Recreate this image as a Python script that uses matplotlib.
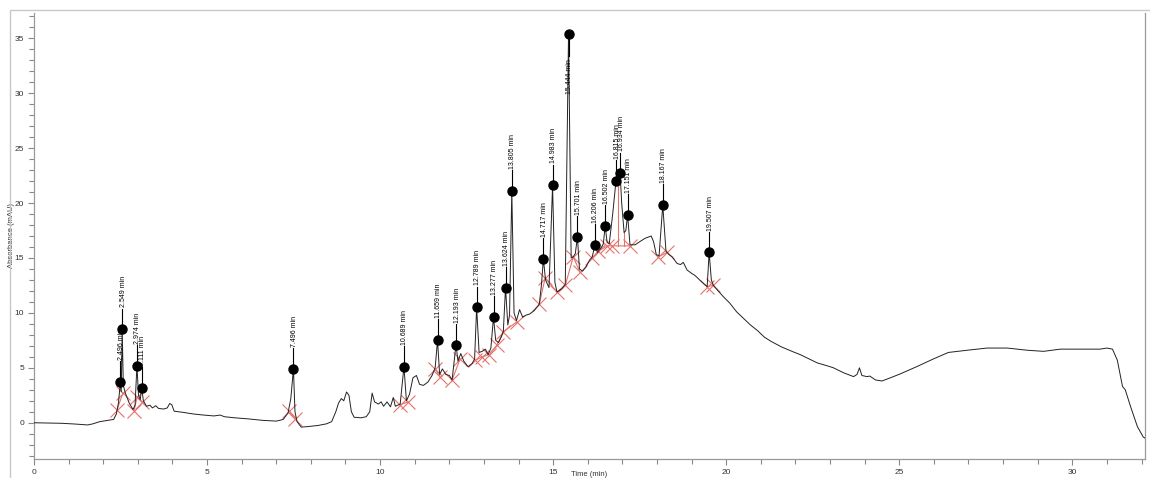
import matplotlib
matplotlib.use("Agg")
import matplotlib.pyplot as plt
from matplotlib.patches import Rectangle
from matplotlib.ticker import MultipleLocator

plt.rcParams['font.family'] = ['Liberation Sans', 'DejaVu Sans']

# chromatogram trace (time in min, absorbance in mAU)
t = [0.00, 0.40, 0.80, 1.20, 1.55, 1.70, 1.90, 2.10, 2.30, 2.38, 2.44, 2.496, 2.52, 2.549,
     2.58, 2.64, 2.75, 2.86, 2.92, 2.974, 3.02, 3.07, 3.111, 3.16, 3.25, 3.35, 3.42, 3.52,
     3.60, 3.75, 3.85, 3.92, 3.98, 4.05, 4.30, 4.60, 4.90, 5.20, 5.38, 5.50, 5.80, 6.20,
     6.60, 7.00, 7.20, 7.34, 7.42, 7.496, 7.54, 7.60, 7.72, 7.90, 8.20, 8.45, 8.60, 8.72,
     8.80, 8.88, 8.95, 9.03, 9.10, 9.17, 9.25, 9.45, 9.60, 9.70, 9.77, 9.84, 9.95, 10.03,
     10.10, 10.20, 10.30, 10.38, 10.44, 10.58, 10.689, 10.76, 10.85, 10.95, 11.05, 11.14,
     11.25, 11.38, 11.50, 11.59, 11.659, 11.72, 11.80, 11.90, 12.00, 12.08, 12.193, 12.25,
     12.33, 12.42, 12.54, 12.66, 12.73, 12.789, 12.86, 12.95, 13.04, 13.12, 13.20, 13.277,
     13.34, 13.42, 13.50, 13.56, 13.624, 13.69, 13.74, 13.805, 13.87, 13.94, 14.03, 14.12,
     14.22, 14.32, 14.45, 14.60, 14.66, 14.717, 14.78, 14.88, 14.983, 15.05, 15.11, 15.25,
     15.35, 15.444, 15.52, 15.58, 15.64, 15.701, 15.76, 15.85, 15.95, 16.05, 16.13, 16.206,
     16.28, 16.40, 16.45, 16.502, 16.56, 16.62, 16.72, 16.815, 16.87, 16.934, 16.98, 17.05,
     17.10, 17.151, 17.22, 17.37, 17.51, 17.66, 17.75, 17.83, 17.90, 17.98, 18.06, 18.167,
     18.26, 18.35, 18.44, 18.58, 18.68, 18.76, 18.87, 19.00, 19.10, 19.30, 19.45, 19.507,
     19.57, 19.63, 19.74, 19.91, 20.10, 20.30, 20.50, 20.70, 20.90, 21.10, 21.30, 21.60,
     21.90, 22.14, 22.40, 22.63, 22.90, 23.10, 23.39, 23.68, 23.78, 23.85, 23.92, 24.07,
     24.15, 24.31, 24.50, 24.75, 25.03, 25.50, 25.98, 26.42, 26.96, 27.54, 28.12, 28.70,
     29.17, 29.65, 30.32, 30.80, 31.00, 31.16, 31.30, 31.45, 31.53, 31.68, 31.88, 32.05, 32.10]
absorb = [0.00, -0.02, -0.05, -0.12, -0.20, -0.10, 0.10, 0.20, 0.30, 0.80, 1.80, 3.70, 2.80, 8.50,
          3.40, 2.70, 1.80, 1.20, 1.60, 5.20, 2.50, 2.10, 3.20, 2.00, 1.50, 1.60, 1.35, 1.55,
          1.30, 1.25, 1.35, 1.75, 1.65, 1.05, 0.95, 0.80, 0.70, 0.62, 0.70, 0.55, 0.45, 0.35,
          0.22, 0.15, 0.30, 0.90, 2.20, 4.90, 1.00, 0.10, -0.40, -0.35, -0.25, -0.10, 0.10, 1.00,
          1.80, 2.20, 2.00, 2.80, 2.50, 1.00, 0.50, 0.45, 0.55, 1.00, 2.70, 1.90, 1.70, 1.90,
          1.50, 1.90, 1.45, 2.30, 1.50, 1.70, 5.10, 2.00, 2.60, 4.10, 4.30, 3.50,
          3.40, 3.70, 4.30, 5.00, 7.50, 4.40, 4.90, 4.40, 4.30, 3.90, 7.10, 5.60,
          6.30, 5.60, 5.10, 5.40, 5.80, 10.50, 6.40, 6.50, 6.70, 6.20, 6.80, 9.60,
          7.50, 7.30, 7.80, 8.30, 12.30, 8.90, 9.80, 21.10, 10.00, 9.30, 10.30, 9.60,
          9.80, 9.90, 10.20, 10.80, 12.50, 14.90, 13.00, 12.30, 21.60, 12.80, 11.90, 12.20,
          12.60, 35.40, 15.00, 15.10, 15.40, 16.90, 14.00, 13.80, 14.20, 14.80, 15.10, 16.20,
          15.50, 16.00, 16.30, 17.90, 16.40, 16.30, 19.00, 22.00, 21.60, 22.70, 20.00, 17.30,
          17.50, 18.90, 16.20, 16.20, 16.50, 16.80, 16.90, 17.00, 16.50, 15.30, 15.20, 19.80,
          15.60, 15.30, 15.10, 14.50, 14.40, 14.60, 13.90, 13.60, 13.40, 12.80, 12.40, 15.50,
          13.00, 12.50, 12.10, 11.50, 10.90, 10.10, 9.50, 8.90, 8.40, 7.80, 7.40, 6.90,
          6.50, 6.20, 5.80, 5.45, 5.20, 5.00, 4.55, 4.20, 4.40, 5.00, 4.30, 4.20,
          4.25, 3.90, 3.80, 4.10, 4.45, 5.10, 5.80, 6.40, 6.60, 6.80, 6.80, 6.60,
          6.50, 6.70, 6.70, 6.70, 6.80, 6.70, 5.70, 3.30, 3.00, 1.50, -0.35, -1.30, -1.40]

# labelled peaks
peak_times = [2.496, 2.549, 2.974, 3.111, 7.496, 10.689, 11.659, 12.193, 12.789, 13.277,
              13.624, 13.805, 14.717, 14.983, 15.444, 15.701, 16.206, 16.502, 16.815,
              16.934, 17.151, 18.167, 19.507]
peak_heights = [3.7, 8.5, 5.2, 3.2, 4.9, 5.1, 7.5, 7.1, 10.5, 9.6, 12.3, 21.1, 14.9, 21.6,
                35.4, 16.9, 16.2, 17.9, 22.0, 22.7, 18.9, 19.8, 15.5]
peak_labels = ["%.3f min" % p for p in peak_times]

# integration baselines (start / end markers)
baselines = [
    [(2.40, 1.18), (2.57, 2.73)],
    [(2.89, 1.09), (2.98, 2.36), (3.12, 1.90)],
    [(7.37, 1.09), (7.54, 0.36)],
    [(10.58, 1.64), (10.81, 1.90)],
    [(11.59, 4.90), (11.73, 4.20)],
    [(12.08, 3.90), (12.31, 5.80)],
    [(12.75, 5.70), (12.95, 6.00), (13.15, 6.20), (13.38, 7.10), (13.56, 8.30), (13.96, 9.20)],
    [(14.60, 10.80), (14.77, 13.20), (15.11, 11.90), (15.35, 12.50), (15.58, 15.10), (15.78, 13.70)],
    [(16.13, 15.00), (16.30, 15.60), (16.56, 16.10), (16.70, 16.10), (17.22, 16.10)],
    [(18.03, 15.10), (18.29, 15.50)],
    [(19.45, 12.40), (19.63, 12.50)],
]
drop_lines = [(16.87, 16.1, 21.6), (17.05, 16.1, 17.3)]

fig = plt.figure(figsize=(11.5, 4.78), dpi=100)
ax = fig.add_axes([34 / 1150, 19 / 478, 1111 / 1150, 446 / 478])

# outer grey frame
fig.patches.append(Rectangle((10 / 1150, -0.1), 1.2, (478 - 10) / 478 + 0.1,
                             transform=fig.transFigure, fill=False,
                             edgecolor='#c8c8c8', lw=1.0))

red = '#e4726c'
for seg in baselines:
    xs = [p[0] for p in seg]
    ys = [p[1] for p in seg]
    ax.plot(xs, ys, color=red, lw=0.8, zorder=2)
    ax.plot(xs, ys, ls='none', marker='x', ms=10, mew=0.8, color=red, zorder=2)
for x, y0, y1 in drop_lines:
    ax.plot([x, x], [y0, y1], color=red, lw=0.8, zorder=2)

ax.plot(t, absorb, color='#222222', lw=0.7, zorder=3)

ax.plot(peak_times, peak_heights, 'o', color='black', ms=6.5, zorder=4)
for x, y, lab in zip(peak_times, peak_heights, peak_labels):
    if y > 30:
        ax.plot([x, x], [y, y - 2.0], color='black', lw=0.8, zorder=4)
        ax.text(x + 0.03, y - 2.3, lab, rotation=90, ha='center', va='top', fontsize=5, zorder=5)
    else:
        ax.plot([x, x], [y, y + 1.9], color='black', lw=0.8, zorder=4)
        ax.text(x + 0.03, y + 2.0, lab, rotation=90, ha='center', va='bottom', fontsize=5, zorder=5)

ax.set_xlim(0, 32.1)
ax.set_ylim(-3.3, 37.3)
ax.xaxis.set_major_locator(MultipleLocator(5))
ax.xaxis.set_minor_locator(MultipleLocator(1))
ax.yaxis.set_major_locator(MultipleLocator(5))
ax.yaxis.set_minor_locator(MultipleLocator(1))
ax.tick_params(which='both', direction='out', color='#888888', labelcolor='#333333',
               labelsize=6, width=0.8)
ax.tick_params(which='major', length=4, pad=3)
ax.tick_params(which='minor', length=3.5)

for side in ['left', 'bottom', 'right']:
    ax.spines[side].set_color('#999999')
    ax.spines[side].set_linewidth(0.9)
ax.spines['top'].set_visible(False)

ax.set_xlabel('Time (min)', fontsize=5.5, color='#333333', va='center')
ax.xaxis.set_label_coords(0.5, -0.034)
ax.set_ylabel('Absorbance (mAU)', fontsize=5.5, color='#333333', va='center')
ax.yaxis.set_label_coords(-22 / 1111, 0.5)

fig.savefig('out.png', dpi=100)
